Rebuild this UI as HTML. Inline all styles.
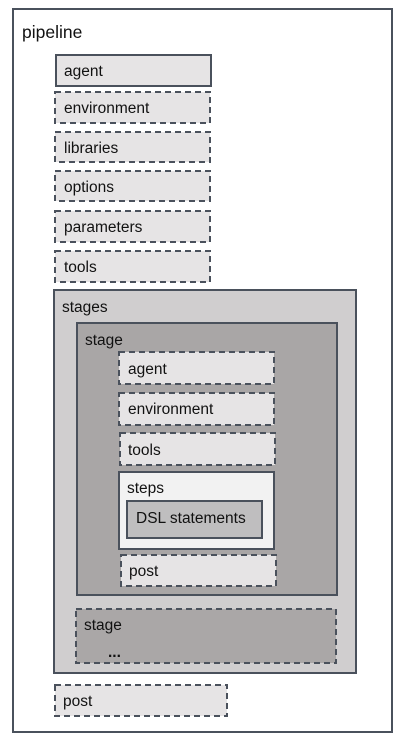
<!DOCTYPE html>
<html><head><style>
html,body{margin:0;padding:0;background:#fff;}
svg{display:block;}
text{font-family:"Liberation Sans",sans-serif;font-size:15.5px;fill:#111;}
</style></head><body>
<svg width="401" height="739" viewBox="0 0 401 739" xmlns="http://www.w3.org/2000/svg">
<g stroke="#4a515c" stroke-width="2">
<rect x="13" y="9" width="379" height="723" fill="#fff"/>
<rect x="56" y="55" width="155" height="31" fill="#e6e4e5"/>
<g stroke-dasharray="6,4" fill="#e6e4e5">
<rect x="55" y="92" width="155" height="31"/>
<rect x="55" y="132" width="155" height="30"/>
<rect x="55" y="171" width="155" height="30"/>
<rect x="55" y="211" width="155" height="31"/>
<rect x="55" y="251" width="155" height="31"/>
</g>
<rect x="54" y="290" width="302" height="383" fill="#d0cecf"/>
<rect x="77" y="323" width="260" height="272" fill="#a9a6a6"/>
<g stroke-dasharray="6,4" fill="#e6e4e5">
<rect x="119" y="352" width="155" height="32"/>
<rect x="119" y="393" width="155" height="32"/>
<rect x="120" y="433" width="155" height="32"/>
<rect x="121" y="555" width="155" height="31"/>
</g>
<rect x="119" y="472" width="155" height="77" fill="#f2f2f2"/>
<rect x="127" y="501" width="135" height="37" fill="#bfbebf"/>
<rect x="76" y="609" width="260" height="54" fill="#aaa7a7" stroke-dasharray="6,4"/>
<rect x="55" y="685" width="172" height="31" fill="#e6e4e5" stroke-dasharray="6,4"/>
</g>
<text x="22" y="38" style="font-size:17.5px">pipeline</text>
<text x="64" y="76">agent</text>
<text x="64" y="113">environment</text>
<text x="64" y="153">libraries</text>
<text x="64" y="192">options</text>
<text x="64" y="232">parameters</text>
<text x="64" y="272">tools</text>
<text x="62" y="312">stages</text>
<text x="85" y="345">stage</text>
<text x="128" y="374">agent</text>
<text x="128" y="414">environment</text>
<text x="128" y="455">tools</text>
<text x="127" y="493">steps</text>
<text x="136" y="523">DSL statements</text>
<text x="129" y="576">post</text>
<text x="84" y="630">stage</text>
<text x="108" y="657" style="font-weight:bold">...</text>
<text x="63" y="706">post</text>
</svg>
</body></html>
